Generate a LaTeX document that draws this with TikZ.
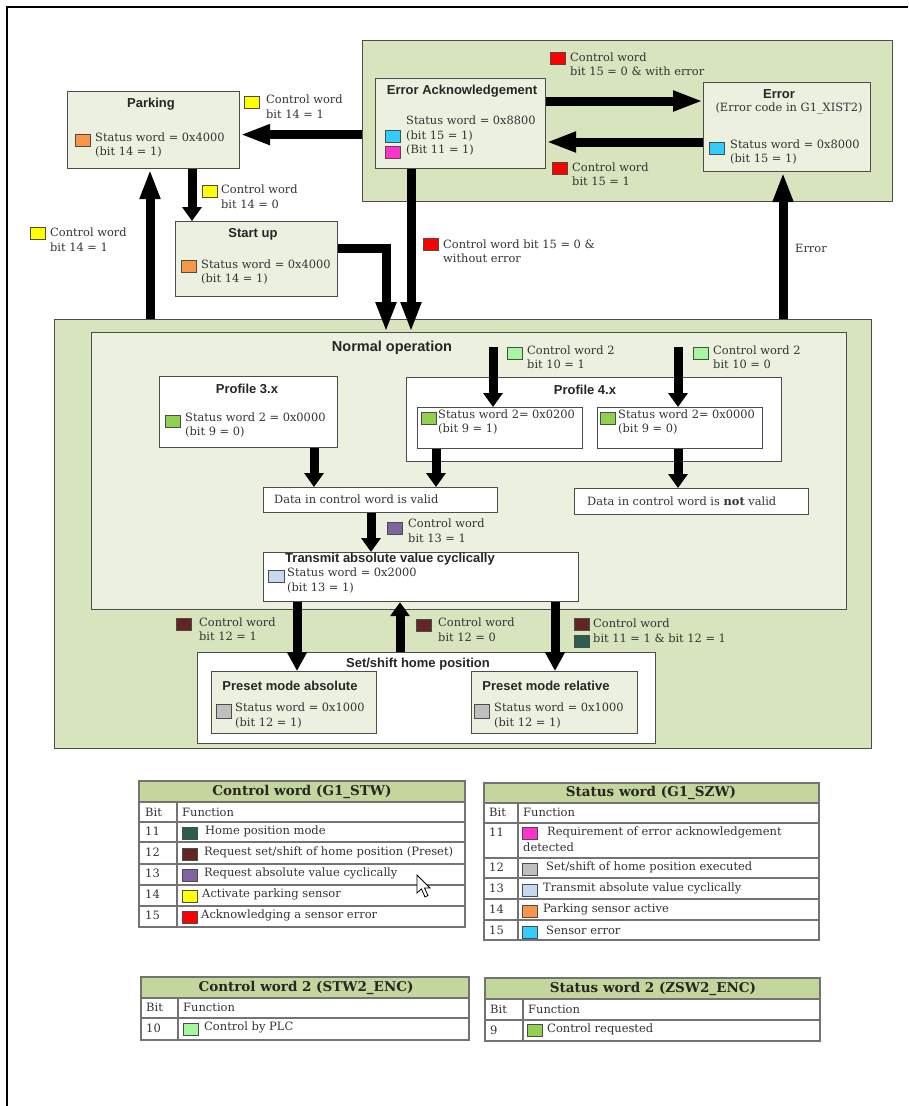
\documentclass[tikz,border=0pt]{standalone}
\usepackage{fontspec}
\setmainfont{DejaVu Serif}
\setsansfont{Liberation Sans}
\usetikzlibrary{arrows.meta}

\definecolor{grpfill}{HTML}{D7E4BD}
\definecolor{boxfill}{HTML}{EBF1DE}
\definecolor{headfill}{HTML}{C3D69B}
\definecolor{cOrange}{HTML}{F79646}
\definecolor{cCyan}{HTML}{33CCFF}
\definecolor{cMagenta}{HTML}{FF33CC}
\definecolor{cYellow}{HTML}{FFFF00}
\definecolor{cRed}{HTML}{FF0000}
\definecolor{cGreen}{HTML}{92D050}
\definecolor{cLGreen}{HTML}{A6F5A0}
\definecolor{cPurple}{HTML}{8064A2}
\definecolor{cLBlue}{HTML}{C6D9F1}
\definecolor{cGray}{HTML}{BFBFBF}
\definecolor{cDRed}{HTML}{632523}
\definecolor{cTeal}{HTML}{2D5D50}

\begin{document}
\begin{tikzpicture}[x=1pt, y=-1pt,
  grp/.style={draw=black!70, line width=1.2pt, fill=grpfill, anchor=north west, inner sep=0},
  inbox/.style={grp, fill=boxfill},
  wbox/.style={grp, fill=white},
  sq/.style={draw=black!70, line width=0.8pt, minimum width=15pt, minimum height=12pt, inner sep=0},
  ttl/.style={font=\sffamily\bfseries\fontsize{13}{15}\selectfont, inner sep=0, text=black!85},
  txt/.style={font=\fontsize{11.4}{14.5}\selectfont, align=left, anchor=west, inner sep=0, text=black!80},
  thd/.style={font=\bfseries\fontsize{13.5}{15}\selectfont, inner sep=0, text=black!85},
  cell/.style={font=\fontsize{11.5}{13}\selectfont, anchor=west, inner sep=0, text=black!80},
  tline/.style={draw=black!55, line width=1.2pt},
  fat/.style={line width=9pt, -{Triangle[length=30pt,width=19pt]}},
  fatmid/.style={line width=9pt, -{Triangle[length=19pt,width=19pt]}},
  fatshort/.style={line width=9pt, -{Triangle[length=14pt,width=19pt]}},
]
\useasboundingbox (0,0) rectangle (908,1106);

% page frame
\draw[line width=2.5pt] (7,1106) -- (7,7) -- (908,7);

% error group
\node[grp, minimum width=530pt, minimum height=161pt] (errgrp) at (362,40) {};
\node[inbox, minimum width=170pt, minimum height=90pt] (ack) at (375,78) {};
\node[inbox, minimum width=167pt, minimum height=89pt] (err) at (703,82) {};
\node[ttl] (ackT) at (462,91) {Error Acknowledgement};
\node[txt] (ackS) at (406,136) {Status word = 0x8800\\(bit 15 = 1)\\(Bit 11 = 1)};
\node[sq, fill=cCyan] (ackQ1) at (392.5,136.5) {};
\node[sq, fill=cMagenta] (ackQ2) at (392.5,152.5) {};
\node[ttl] (errT) at (779,94) {Error};
\node[txt, anchor=center] (errC) at (789,109) {(Error code in G1\_XIST2)};
\node[sq, fill=cCyan] (errQ) at (717,148.5) {};
\node[txt] (errS) at (730,152) {Status word = 0x8000\\(bit 15 = 1)};

% parking and start up
\node[inbox, minimum width=172pt, minimum height=77pt] (park) at (67,91) {};
\node[ttl] (parkT) at (151,104) {Parking};
\node[sq, fill=cOrange] (parkQ) at (82.5,140.5) {};
\node[txt] (parkS) at (95,145) {Status word = 0x4000\\(bit 14 = 1)};
\node[inbox, minimum width=162pt, minimum height=75pt] (start) at (175,221) {};
\node[ttl] (startT) at (253,234) {Start up};
\node[sq, fill=cOrange] (startQ) at (188.5,266.5) {};
\node[txt] (startS) at (201,272) {Status word = 0x4000\\(bit 14 = 1)};

% normal operation
\node[grp, minimum width=817pt, minimum height=429pt] (nrm) at (54,319) {};
\node[inbox, minimum width=755pt, minimum height=277pt] (nrmIn) at (91,332) {};
\node[ttl, font=\sffamily\bfseries\fontsize{14.5}{17}\selectfont] (nrmT) at (392,348) {Normal operation};

\node[wbox, minimum width=178pt, minimum height=71pt] (p3) at (159,376) {};
\node[ttl] (p3T) at (247,389) {Profile 3.x};
\node[sq, fill=cGreen] (p3Q) at (173,421.5) {};
\node[txt] (p3S) at (185,425) {Status word 2 = 0x0000\\(bit 9 = 0)};

\node[wbox, minimum width=375pt, minimum height=84pt] (p4) at (406,377) {};
\node[ttl] (p4T) at (585,390) {Profile 4.x};
\node[wbox, minimum width=165pt, minimum height=41pt] (p4a) at (417,407) {};
\node[wbox, minimum width=165pt, minimum height=41pt] (p4b) at (597,407) {};
\node[sq, fill=cGreen] (p4aQ) at (428.5,418) {};
\node[txt] (p4aS) at (438,422) {Status word 2= 0x0200\\(bit 9 = 1)};
\node[sq, fill=cGreen] (p4bQ) at (607.5,418) {};
\node[txt] (p4bS) at (618,422) {Status word 2= 0x0000\\(bit 9 = 0)};

\node[wbox, minimum width=234pt, minimum height=25pt] (valid) at (263,487) {};
\node[txt] (validT) at (274,499.5) {Data in control word is valid};
\node[wbox, minimum width=234pt, minimum height=26pt] (nvalid) at (574,488) {};
\node[txt] (nvalidT) at (587,501) {Data in control word is \textbf{not} valid};

\node[wbox, minimum width=315pt, minimum height=49pt] (trans) at (263,552) {};
\node[ttl] (transT) at (390,559) {Transmit absolute value cyclically};
\node[sq, fill=cLBlue, minimum width=16pt] (transQ) at (276,576) {};
\node[txt] (transS) at (287,580.5) {Status word = 0x2000\\(bit 13 = 1)};

% set/shift home position
\node[wbox, minimum width=458pt, minimum height=91pt] (sets) at (197,652) {};
\node[ttl] (setsT) at (418,664) {Set/shift home position};
\node[inbox, minimum width=165pt, minimum height=62pt] (pabs) at (211,671) {};
\node[inbox, minimum width=166pt, minimum height=62pt] (prel) at (471,671) {};
\node[ttl] (pabsT) at (290,686) {Preset mode absolute};
\node[ttl] (prelT) at (546,686) {Preset mode relative};
\node[sq, fill=cGray, minimum height=14pt] (pabsQ) at (223.5,711) {};
\node[txt] (pabsS) at (235,715.5) {Status word = 0x1000\\(bit 12 = 1)};
\node[sq, fill=cGray, minimum height=14pt] (prelQ) at (481.5,711) {};
\node[txt] (prelS) at (494,715.5) {Status word = 0x1000\\(bit 12 = 1)};

% arrows
\coordinate (startIn) at ([xshift=17pt]start.north west);
\coordinate (nIn1) at ([xshift=295pt]nrmIn.north west);
\coordinate (nIn2) at ([xshift=320pt]nrmIn.north west);
\coordinate (cw2a) at (493,347);
\coordinate (cw2b) at (678,347);
\coordinate (vIn1) at ([xshift=51pt]valid.north west);
\coordinate (vIn2) at ([xshift=173pt]valid.north west);
\coordinate (tIn) at ([xshift=108pt]trans.north west);
\coordinate (aIn) at ([xshift=86pt]pabs.north west);
\coordinate (rIn) at ([xshift=84pt]prel.north west);
\coordinate (sOut) at ([xshift=203pt]sets.north west);
\coordinate (parkIn) at ([xshift=83pt]park.south west);
\coordinate (errIn) at ([xshift=80pt]err.south west);

\draw[fat] ([yshift=-23pt]ack.north east) -- ([yshift=-19pt]err.north west);
\draw[fat] ([yshift=-60pt]err.north west) -- ([yshift=-64pt]ack.north east);
\draw[fat] ([yshift=-13.5pt]errgrp.west) -- ([yshift=-4.5pt]park.east);
\draw[fatshort] (park.south -| startIn) -- (startIn);
\draw[fat] ([yshift=10.5pt]start.east) -| (nIn1);
\draw[fat] (ack.south -| nIn2) -- (nIn2);
\draw[fat] (nrm.north -| parkIn) -- (parkIn);
\draw[fat] (nrm.north -| errIn) -- (errIn);
\draw[fatshort] (cw2a) -- (cw2a |- p4a.north);
\draw[fatshort] (cw2b) -- (cw2b |- p4b.north);
\draw[fatshort] (p3.south -| vIn1) -- (vIn1);
\draw[fatshort] (p4a.south -| vIn2) -- (vIn2);
\draw[fatshort] (p4b.south -| cw2b) -- (nvalid.north -| cw2b);
\draw[fatshort] (valid.south -| tIn) -- (tIn);
\draw[fatmid] (trans.south -| aIn) -- (aIn);
\draw[fatshort] (sOut) -- (trans.south -| sOut);
\draw[fatmid] (trans.south -| rIn) -- (rIn);

% arrow labels
\node[sq, fill=cRed] (l1Q) at (557.5,58.5) {};
\node[txt] (l1) at (570,64) {Control word\\bit 15 = 0 \& with error};
\node[sq, fill=cRed] (l2Q) at (559.5,168) {};
\node[txt] (l2) at (572,174) {Control word\\bit 15 = 1};
\node[sq, fill=cYellow] (l3Q) at (251.5,102) {};
\node[txt] (l3) at (266,106.5) {Control word\\bit 14 = 1};
\node[sq, fill=cYellow] (l4Q) at (209.5,191) {};
\node[txt] (l4) at (221,196.5) {Control word\\bit 14 = 0};
\node[sq, fill=cRed] (l5Q) at (430.5,244) {};
\node[txt] (l5) at (443,251) {Control word bit 15 = 0 \&\\without error};
\node[sq, fill=cYellow] (l6Q) at (38,233.5) {};
\node[txt] (l6) at (50,239.5) {Control word\\bit 14 = 1};
\node[txt] (l7) at (795,248) {Error};
\node[sq, fill=cLGreen] (l8Q) at (515,353.5) {};
\node[txt] (l8) at (527,357) {Control word 2\\bit 10 = 1};
\node[sq, fill=cLGreen] (l9Q) at (700.5,353.5) {};
\node[txt] (l9) at (713,357) {Control word 2\\bit 10 = 0};
\node[sq, fill=cPurple] (l10Q) at (394.5,528.5) {};
\node[txt] (l10) at (408,530.5) {Control word\\bit 13 = 1};
\node[sq, fill=cDRed] (l11Q) at (183.5,624.5) {};
\node[txt] (l11) at (199,629) {Control word\\bit 12 = 1};
\node[sq, fill=cDRed] (l12Q) at (424,625.5) {};
\node[txt] (l12) at (438,629.5) {Control word\\bit 12 = 0};
\node[sq, fill=cDRed] (l13Q) at (581.5,624.5) {};
\node[sq, fill=cTeal] (l13Q2) at (581.5,641) {};
\node[txt] (l13) at (593,630.5) {Control word\\bit 11 = 1 \& bit 12 = 1};

% table: control word
\fill[headfill] (139,781) rectangle (465,802);
\draw[tline] (139,781) rectangle (465,927);
\foreach \yy in {802,822,842,864,885,906} \draw[tline] (139,\yy) -- (465,\yy);
\draw[tline] (177,802) -- (177,927);
\node[thd] (t1h) at (302,791.5) {Control word (G1\_STW)};
\node[cell] (t1b) at (145,812) {Bit};
\node[cell] (t1f) at (182,812) {Function};
\node[cell] (t1r1) at (145,831) {11};
\node[sq, fill=cTeal] (t1q1) at (189.5,833) {};
\node[cell] (t1t1) at (205,831) {Home position mode};
\node[cell] (t1r2) at (145,852) {12};
\node[sq, fill=cDRed] (t1q2) at (189.5,854) {};
\node[cell] (t1t2) at (204,852) {Request set/shift of home position (Preset)};
\node[cell] (t1r3) at (145,873) {13};
\node[sq, fill=cPurple] (t1q3) at (189.5,875) {};
\node[cell] (t1t3) at (204,873) {Request absolute value cyclically};
\node[cell] (t1r4) at (145,894.5) {14};
\node[sq, fill=cYellow] (t1q4) at (189.5,896.5) {};
\node[cell] (t1t4) at (202,894.5) {Activate parking sensor};
\node[cell] (t1r5) at (145,915.5) {15};
\node[sq, fill=cRed] (t1q5) at (189.5,917.5) {};
\node[cell] (t1t5) at (201,915.5) {Acknowledging a sensor error};
% mouse pointer
\filldraw[fill=white, draw=black, line width=0.8pt] (417,875) -- ++(0,18) -- ++(4.5,-4) -- ++(3.5,8) -- ++(3,-1.5) -- ++(-3.5,-7.5) -- ++(5.5,0) -- cycle;

% table: status word
\fill[headfill] (484,783) rectangle (819,803);
\draw[tline] (484,783) rectangle (819,940);
\foreach \yy in {803,823,858,878,899,920} \draw[tline] (484,\yy) -- (819,\yy);
\draw[tline] (518,803) -- (518,940);
\node[thd] (t2h) at (651,793) {Status word (G1\_SZW)};
\node[cell] (t2b) at (489,812.5) {Bit};
\node[cell] (t2f) at (523,812.5) {Function};
\node[cell] (t2r1) at (489,832) {11};
\node[sq, fill=cMagenta] (t2q1) at (530,833.5) {};
\node[cell] (t2t1) at (547,832) {Requirement of error acknowledgement};
\node[cell] (t2t1b) at (523,847) {detected};
\node[cell] (t2r2) at (489,867) {12};
\node[sq, fill=cGray] (t2q2) at (530,869) {};
\node[cell] (t2t2) at (546,867) {Set/shift of home position executed};
\node[cell] (t2r3) at (489,888) {13};
\node[sq, fill=cLBlue] (t2q3) at (530,890) {};
\node[cell] (t2t3) at (543,888) {Transmit absolute value cyclically};
\node[cell] (t2r4) at (489,909) {14};
\node[sq, fill=cOrange] (t2q4) at (530,911) {};
\node[cell] (t2t4) at (543,909) {Parking sensor active};
\node[cell] (t2r5) at (489,930) {15};
\node[sq, fill=cCyan] (t2q5) at (530,932) {};
\node[cell] (t2t5) at (546,930) {Sensor error};

% table: control word 2
\fill[headfill] (141,977) rectangle (469,998);
\draw[tline] (141,977) rectangle (469,1040);
\foreach \yy in {998,1018} \draw[tline] (141,\yy) -- (469,\yy);
\draw[tline] (178,998) -- (178,1040);
\node[thd] (t3h) at (306,987.5) {Control word 2 (STW2\_ENC)};
\node[cell] (t3b) at (146,1007) {Bit};
\node[cell] (t3f) at (183,1007) {Function};
\node[cell] (t3r1) at (146,1028) {10};
\node[sq, fill=cLGreen] (t3q1) at (191,1029) {};
\node[cell] (t3t1) at (204,1027) {Control by PLC};

% table: status word 2
\fill[headfill] (485,978) rectangle (820,999);
\draw[tline] (485,978) rectangle (820,1041);
\foreach \yy in {999,1020} \draw[tline] (485,\yy) -- (820,\yy);
\draw[tline] (523,999) -- (523,1041);
\node[thd] (t4h) at (653,988.5) {Status word 2 (ZSW2\_ENC)};
\node[cell] (t4b) at (490,1009) {Bit};
\node[cell] (t4f) at (528,1009) {Function};
\node[cell] (t4r1) at (490,1030) {9};
\node[sq, fill=cGreen] (t4q1) at (534.5,1030) {};
\node[cell] (t4t1) at (547,1029) {Control requested};
\end{tikzpicture}
\end{document}
